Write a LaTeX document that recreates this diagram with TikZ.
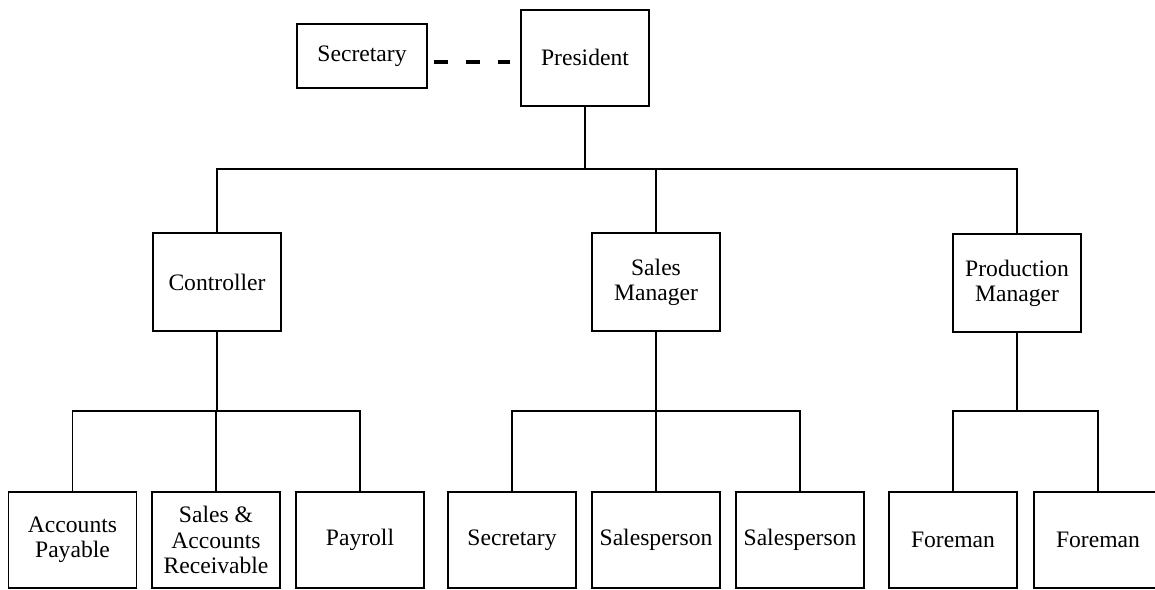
\documentclass[tikz,border=0pt]{standalone}
\usepackage{fontspec}
\setmainfont{Liberation Serif}
\begin{document}
\begin{tikzpicture}[x=0.5pt,y=-0.5pt,
  box/.style={draw=black,line width=0.9pt,fill=white,inner sep=0pt,
    align=center,font=\fontsize{11.8}{12.6}\selectfont},
  lowbox/.style={box,minimum width=64pt,minimum height=48pt},
  midbox/.style={box,minimum width=64pt,minimum height=49pt},
  link/.style={line width=0.6pt,draw=black},
  dashlink/.style={line width=1.8pt,dash pattern=on 7pt off 9pt,
    shorten <=3pt,shorten >=5pt}]
\useasboundingbox (0,0) rectangle (1155,589);

% top: president and his secretary
\node[box,minimum width=65pt,minimum height=32pt] (topsec) at (362,56) {Secretary};
\node[box,anchor=north,minimum width=64pt,text height=28pt,text depth=20pt] (pres) at (585,9) {President};

% managers
\node[midbox] (ctrl)  at (217,282) {Controller};
\node[midbox] (sales) at (656,282) {Sales\\Manager};
\node[midbox] (prod)  at (1017,283) {Production\\Manager};

% staff
\node[lowbox] (ap)    at (72.5,540) {Accounts\\Payable};
\node[lowbox] (ar)    at (216,540) {Sales \&\\Accounts\\Receivable};
\node[lowbox] (pay)   at (360,540) {Payroll};
\node[lowbox] (ssec)  at (512,540) {Secretary};
\node[lowbox] (sp1)   at (656,540) {Salesperson};
\node[lowbox] (sp2)   at (800,540) {Salesperson};
\node[lowbox] (fm1)   at (953,540) {Foreman};
\node[lowbox] (fm2)   at (1098,540) {Foreman};

% bus levels
\coordinate (busA) at (0,169);
\coordinate (busB) at (0,411);

% dashed staff link
\coordinate (d1) at ([yshift=-3pt]topsec.east);
\draw[dashlink] (d1) -- (d1 -| pres.west);

% president to managers
\draw[link] (pres.south) -- (pres.south |- busA);
\draw[link] (ctrl.north) -- (ctrl.north |- busA) -| (prod.north);
\draw[link] (sales.north) -- (sales.north |- busA);

% controller branch
\draw[link] (ctrl.south) -- (ctrl.south |- busB);
\draw[link] (ap.north) -- (ap.north |- busB) -| (pay.north);
\draw[link] (ar.north) -- (ar.north |- busB);

% sales branch
\draw[link] (sales.south) -- (sales.south |- busB);
\draw[link] (ssec.north) -- (ssec.north |- busB) -| (sp2.north);
\draw[link] (sp1.north) -- (sp1.north |- busB);

% production branch
\draw[link] (prod.south) -- (prod.south |- busB);
\draw[link] (fm1.north) -- (fm1.north |- busB) -| (fm2.north);
\end{tikzpicture}
\end{document}
